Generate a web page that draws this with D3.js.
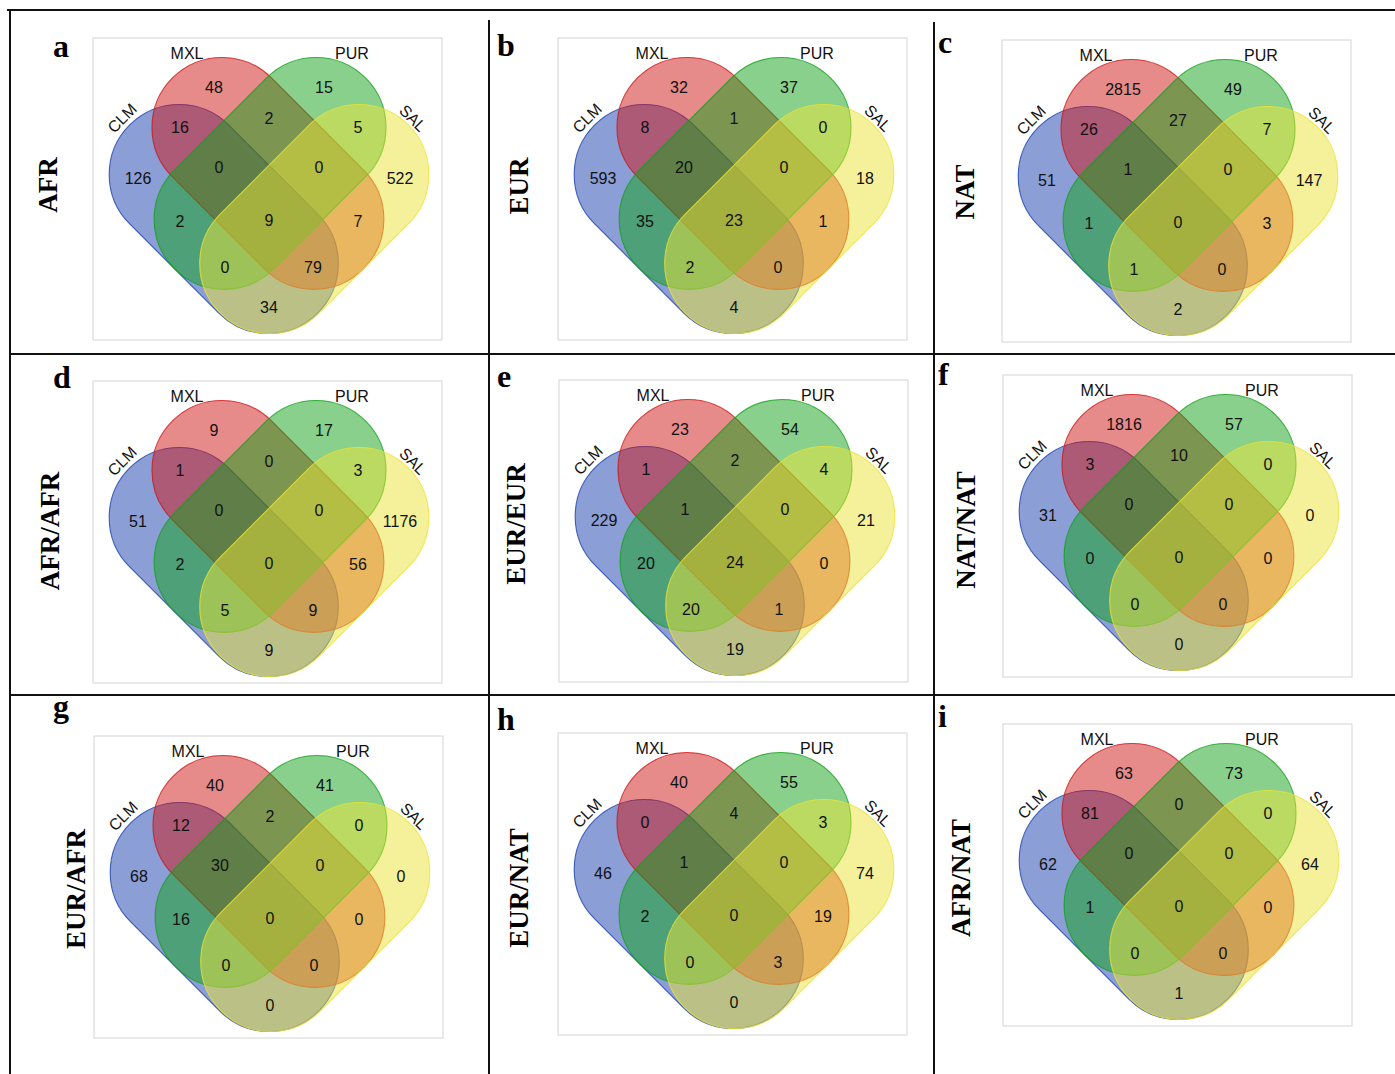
<!DOCTYPE html>
<html lang="en">
<head>
<meta charset="UTF-8">
<title>Four-set Venn panels</title>
<script src="https://d3js.org/d3.v7.min.js"></script>
<style>
  body { margin: 0; background: #fff; }
  .count, .setname { font-family: "Liberation Sans", Arial, sans-serif; font-size: 16px; fill: #111; }
  .panel-letter, .row-label { font-family: "Liberation Serif", "Times New Roman", serif; font-weight: bold; fill: #000; }
</style>
</head>
<body>
<svg id="chart" width="1395" height="1074"></svg>
<script>
// ---- data ----
const setNames = ["CLM", "MXL", "PUR", "SAL"];
const setColors = ["#173dad", "#cd1515", "#11a119", "#ebe335"];

// region order used by every counts array below
const regionKeys = [
  "CLM", "MXL", "PUR", "SAL",
  "CLM&MXL", "MXL&PUR", "PUR&SAL",
  "CLM&MXL&PUR", "MXL&PUR&SAL",
  "CLM&PUR", "CLM&MXL&PUR&SAL", "MXL&SAL",
  "CLM&PUR&SAL", "CLM&MXL&SAL", "CLM&SAL"
];

const panelLetters = ["a", "b", "c", "d", "e", "f", "g", "h", "i"];
const panelTitles = ["AFR", "EUR", "NAT", "AFR/AFR", "EUR/EUR", "NAT/NAT", "EUR/AFR", "EUR/NAT", "AFR/NAT"];

const countsAFR    = [126, 48, 15, 522, 16, 2, 5, 0, 0, 2, 9, 7, 0, 79, 34];
const countsEUR    = [593, 32, 37, 18, 8, 1, 0, 20, 0, 35, 23, 1, 2, 0, 4];
const countsNAT    = [51, 2815, 49, 147, 26, 27, 7, 1, 0, 1, 0, 3, 1, 0, 2];
const countsAFRAFR = [51, 9, 17, 1176, 1, 0, 3, 0, 0, 2, 0, 56, 5, 9, 9];
const countsEUREUR = [229, 23, 54, 21, 1, 2, 4, 1, 0, 20, 24, 0, 20, 1, 19];
const countsNATNAT = [31, 1816, 57, 0, 3, 10, 0, 0, 0, 0, 0, 0, 0, 0, 0];
const countsEURAFR = [68, 40, 41, 0, 12, 2, 0, 30, 0, 16, 0, 0, 0, 0, 0];
const countsEURNAT = [46, 40, 55, 74, 0, 4, 3, 1, 0, 2, 0, 19, 0, 3, 0];
const countsAFRNAT = [62, 63, 73, 64, 81, 0, 0, 0, 0, 1, 0, 0, 0, 0, 1];

const panelCounts = [countsAFR, countsEUR, countsNAT, countsAFRAFR, countsEUREUR,
                     countsNATNAT, countsEURAFR, countsEURNAT, countsAFRNAT];

// ---- layout ----
const width = 1395, height = 1074;
const boxW = 349, boxH = 302;
const centerInBox = [176, 181];

// box origin, letter position, row label centre (per panel)
const boxOrigins = [[93, 38], [558, 38], [1002, 40], [93, 381], [559, 380], [1003, 375], [94, 736], [558, 733], [1003, 724]];
const letterPos  = [[53, 57], [497, 56], [938, 53], [53, 388], [497, 387], [938, 385], [53, 717], [497, 730], [938, 727]];
const titlePos   = [[48, 185], [519, 186], [965, 192], [50, 531], [516, 524], [966, 530], [76, 889], [519, 888], [961, 878]];

// stadium shapes in a frame rotated 45 deg (a along the axis, b across it)
const radius = 70;
const shapes = [
  { set: 0, a0: -95, a1: 31, b: 32, mirror: false },
  { set: 1, a0: -98, a1: 32, b: -31.5, mirror: false },
  { set: 2, a0: -98, a1: 32, b: -31.5, mirror: true },
  { set: 3, a0: -95, a1: 31, b: 32, mirror: true }
];

// where each region count sits, relative to the diagram centre
const regionOffsets = [
  [-131, -41], [-55, -132], [55, -132], [131, -41],
  [-89, -92], [0, -101], [89, -92],
  [-50, -52], [50, -52],
  [-89, 2], [0, 1], [89, 2],
  [-44, 48], [44, 48], [0, 88]
];
const setLabelPos = [[-147, -101, -45], [-82, -166, 0], [83, -166, 0], [144, -101, 45]];

const color = d3.scaleOrdinal().domain(setNames).range(setColors);

const svg = d3.select("#chart").attr("viewBox", `0 0 ${width} ${height}`);
svg.append("rect").attr("width", width).attr("height", height).attr("fill", "white");

// ---- panels ----
panelCounts.forEach((counts, p) => {
  const [bx, by] = boxOrigins[p];
  const cx = bx + centerInBox[0], cy = by + centerInBox[1];

  svg.append("rect")
    .attr("x", bx).attr("y", by)
    .attr("width", boxW).attr("height", boxH)
    .attr("fill", "none")
    .attr("stroke", "#d4d4d4")
    .attr("stroke-width", 1);

  const g = svg.append("g").attr("transform", `translate(${cx},${cy})`);

  shapes.forEach(s => {
    const name = setNames[s.set];
    g.append("g")
      .attr("transform", `${s.mirror ? "scale(-1,1) " : ""}rotate(45)`)
      .append("rect")
      .attr("x", s.a0 - radius)
      .attr("y", s.b - radius)
      .attr("width", s.a1 - s.a0 + 2 * radius)
      .attr("height", 2 * radius)
      .attr("rx", radius).attr("ry", radius)
      .attr("fill", color(name))
      .attr("fill-opacity", 0.5)
      .attr("stroke", color(name))
      .attr("stroke-opacity", 0.8)
      .attr("stroke-width", 1.1);
  });

  g.selectAll("text.count")
    .data(counts)
    .enter().append("text")
    .attr("class", "count")
    .attr("x", (d, i) => regionOffsets[i][0])
    .attr("y", (d, i) => regionOffsets[i][1])
    .attr("dy", "0.36em")
    .attr("text-anchor", "middle")
    .text(d => d);

  g.selectAll("text.setname")
    .data(setNames)
    .enter().append("text")
    .attr("class", "setname")
    .attr("transform", (d, i) => `translate(${setLabelPos[i][0]},${setLabelPos[i][1]}) rotate(${setLabelPos[i][2]})`)
    .attr("dy", "0.36em")
    .attr("text-anchor", "middle")
    .text(d => d);

  svg.append("text")
    .attr("class", "panel-letter")
    .attr("x", letterPos[p][0]).attr("y", letterPos[p][1])
    .style("font-size", "32px")
    .text(panelLetters[p]);

  svg.append("text")
    .attr("class", "row-label")
    .attr("transform", `translate(${titlePos[p][0]},${titlePos[p][1]}) rotate(-90)`)
    .attr("dy", "0.35em")
    .attr("text-anchor", "middle")
    .style("font-size", "27px")
    .text(panelTitles[p]);
});

// ---- table rules ----
const rules = [
  [7, 10, width, 10], [10, 10, 10, height],
  [10, 354, width, 354], [10, 695, width, 695],
  [489, 20, 489, height], [934, 22, 934, height]
];
svg.selectAll("line.rule")
  .data(rules)
  .enter().append("line")
  .attr("class", "rule")
  .attr("x1", d => d[0]).attr("y1", d => d[1])
  .attr("x2", d => d[2]).attr("y2", d => d[3])
  .attr("stroke", "#111")
  .attr("stroke-width", 2);
</script>
</body>
</html>
